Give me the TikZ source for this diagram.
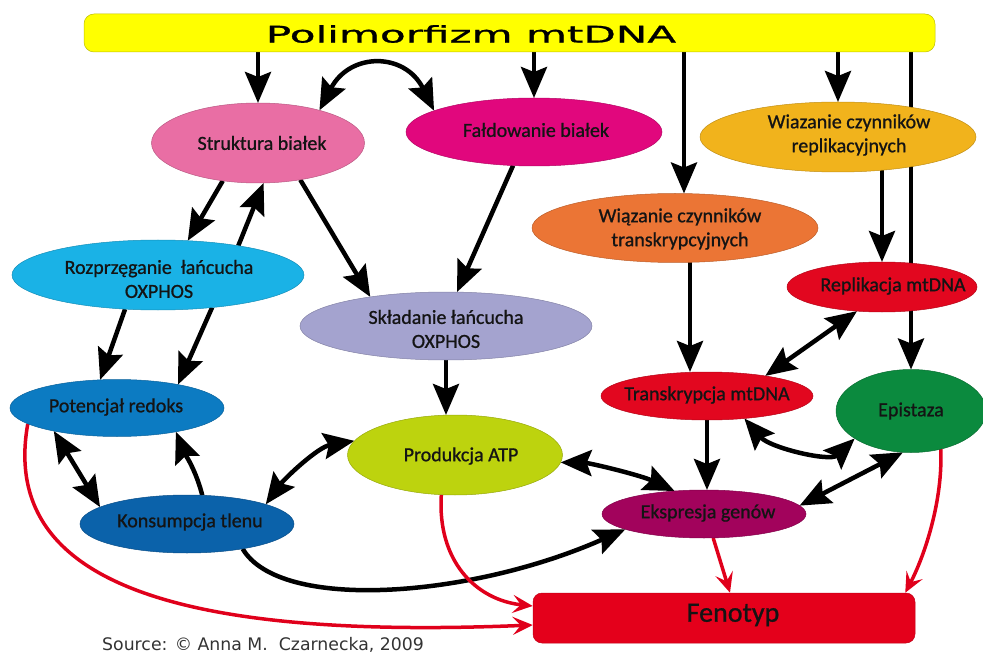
\documentclass[tikz,border=0pt]{standalone}
\usepackage{fontspec}
\usepackage{graphicx}
\setmainfont{Carlito}
\newfontfamily\lbfont{Carlito}[FakeBold=0.9]
\newfontfamily\dvsans{DejaVu Sans}
\newfontfamily\dvtitle{DejaVu Sans}[FakeBold=0.8]
\usetikzlibrary{shapes.geometric,arrows.meta,backgrounds,calc}
\definecolor{cBar}{HTML}{FFFF00}
\definecolor{cSB}{HTML}{E96EA4}
\definecolor{cFB}{HTML}{E1077D}
\definecolor{cWR}{HTML}{F1B31C}
\definecolor{cWT}{HTML}{EB7535}
\definecolor{cRZ}{HTML}{1AB2E6}
\definecolor{cSK}{HTML}{A4A3CF}
\definecolor{cRed}{HTML}{E2071F}
\definecolor{cEP}{HTML}{0B8A3E}
\definecolor{cPA}{HTML}{BDD30E}
\definecolor{cEK}{HTML}{A2035C}
\definecolor{cPR}{HTML}{0C7BC2}
\definecolor{cKO}{HTML}{0B62AA}
\definecolor{cFE}{HTML}{E4001B}
\definecolor{cArr}{HTML}{E0001B}
\begin{document}
\begin{tikzpicture}[x=1pt,y=-1pt,
  ell/.style={ellipse, draw=#1!80!black, line width=0.5pt, fill=#1, inner sep=0pt, outer sep=0pt},
  lab/.style={font=\lbfont\fontsize{20}{24}\selectfont, align=center, text=black!92, inner sep=0pt},
  blk/.style={draw=black, line width=4.5pt, -{Stealth[length=31pt,width=26pt,inset=5pt]}},
  blkd/.style={draw=black, line width=4.5pt, {Stealth[length=31pt,width=26pt,inset=5pt]}-{Stealth[length=31pt,width=26pt,inset=5pt]}},
  redarr/.style={draw=cArr, line width=3.5pt, -{Stealth[length=20pt,width=18pt,inset=8pt]}}
]
\useasboundingbox (0,0) rectangle (983,655);

% top bar
\node[rectangle, rounded corners=10pt, draw=cBar!75!black, line width=0.5pt, fill=cBar,
      minimum width=851pt, minimum height=38pt, inner sep=0pt] (bar) at (509.5,33) {};
\node[font=\dvtitle\fontsize{23}{23}\selectfont, inner sep=0pt] (title) at (471,34) {\scalebox{1.83}[1]{Polimorfizm mtDNA}};

% ellipses
\node[ell=cSB, minimum width=213pt, minimum height=80pt] (sb) at (258,143) {};
\node[ell=cFB, minimum width=256pt, minimum height=68pt] (fb) at (534,132) {};
\node[ell=cWR, minimum width=276pt, minimum height=70pt] (wr) at (838,137) {};
\node[ell=cWT, minimum width=286pt, minimum height=69pt] (wt) at (675,228) {};
\node[ell=cRZ, minimum width=292pt, minimum height=70pt] (rz) at (158,275) {};
\node[ell=cSK, minimum width=292pt, minimum height=68pt] (sk) at (446,326) {};
\node[ell=cRed, minimum width=190pt, minimum height=50pt] (rep) at (882,287) {};
\node[ell=cRed, minimum width=212pt, minimum height=48pt] (tr) at (707,396) {};
\node[ell=cEP, minimum width=150pt, minimum height=83pt] (ep) at (911,411) {};
\node[ell=cPA, minimum width=215pt, minimum height=80pt] (pa) at (455,455) {};
\node[ell=cEK, minimum width=204pt, minimum height=48pt] (ek) at (704,514) {};
\node[ell=cPR, minimum width=214pt, minimum height=57pt] (pr) at (117,408) {};
\node[ell=cKO, minimum width=214pt, minimum height=58pt] (ko) at (187,524) {};
\node[rectangle, rounded corners=9pt, draw=cFE!85!black, line width=0.5pt, fill=cFE,
      minimum width=382pt, minimum height=50pt, inner sep=0pt] (fe) at (724,618) {};

% labels
\node[lab] (lsb) at (262,143) {Struktura białek};
\node[lab] (lfb) at (536,130) {Fałdowanie białek};
\node[lab] (lwr) at (849,135) {Wiazanie czynników\\replikacyjnych};
\node[lab] (lwt) at (680,229) {Wiązanie czynników\\transkrypcyjnych};
\node[lab] (lrz) at (159,279) {Rozprzęganie\ \ łańcucha\\OXPHOS};
\node[lab] (lsk) at (446,329) {Składanie łańcucha\\OXPHOS};
\node[lab] (lrep) at (893,286) {Replikacja mtDNA};
\node[lab] (ltr) at (707,395) {Transkrypcja mtDNA};
\node[lab] (lep) at (911,411) {Epistaza};
\node[lab] (lpa) at (461,456) {Produkcja ATP};
\node[lab] (lek) at (708,513) {Ekspresja genów};
\node[lab] (lpr) at (116,407) {Potencjał redoks};
\node[lab] (lko) at (190,522) {Konsumpcja tlenu};
\node[font=\lbfont\fontsize{28}{30}\selectfont, text=black!92, inner sep=0pt] (lfe) at (733,615) {Fenotyp};

\node[anchor=base west, font=\dvsans\fontsize{17.3}{20}\selectfont, text=black!80, inner sep=0pt] (src) at (102,650) {Source: © Anna M.\ \ Czarnecka, 2009};

\begin{scope}[on background layer]
\draw[blk] (bar.south -| sb.north) -- (sb.north);
\draw[blkd] (sb.28) .. controls (350,52) and (405,52) .. (fb.168);
\draw[blk] (bar.south -| fb.north) -- (fb.north);
\coordinate (wtx) at ([xshift=9pt]wt.north);
\draw[blk] (bar.south -| wtx) -- (wtx);
\draw[blk] (bar.south -| wr.north) -- (wr.north);
\draw[blk] (bar.south -| ep.north) -- (ep.north);
\draw[blk] (wr.center -| rep.north) -- (rep.north);
\coordinate (trx) at ([xshift=-17pt]tr.north);
\draw[blk] (wt.center -| trx) -- (trx);
\draw[blkd] (rep.224) -- (tr.19);
\draw[blkd] (tr.-31) .. controls (770,448) and (830,462) .. (ep.206.6);
\draw[blk] (tr.center) -- (tr.center |- ek.north);
\draw[blkd] (pa.-4.2) .. controls (590,463) and (640,475) .. (ek.142.3);
\draw[blkd] (ek.5.2) -- (ep.259.7);
\draw[blk] (sk.center) -- (sk.center |- pa.north);
\draw[blk] (fb.238.4) -- (sk.72);
\draw[blk] (sb.-41.6) -- (sk.159.1);
\draw[blk] (sb.227.8) -- (rz.49.4);
\draw[blk] (rz.20.8) -- (sb.-82.9);
\draw[blk] (rz.226.7) -- (pr.121.2);
\draw[blk] (rz.-31) -- (pr.21.8);
\draw[blkd] (pr.200.6) -- (ko.169.2);
\draw[blk] (ko.62.6) .. controls (196,470) and (184,452) .. (pr.-22.6);
\draw[blkd] (ko.14.5) .. controls (285,478) and (318,447) .. (pa.172.7);
\draw[blk] (ko.-24.1) .. controls (280,612) and (470,598) .. (ek.191);
\draw[redarr] (pr.190.3) .. controls (0,580) and (170,640) .. ([yshift=-7pt]fe.west);
\draw[redarr] (pa.251.6) .. controls (437,560) and (475,600) .. ([yshift=12pt]fe.west);
\draw[redarr] (ek.-69.4) -- ([xshift=6pt]fe.north);
\draw[redarr] (ep.-52.7) .. controls (943,500) and (925,555) .. ([xshift=-10pt]fe.north east);
\end{scope}
\end{tikzpicture}
\end{document}
